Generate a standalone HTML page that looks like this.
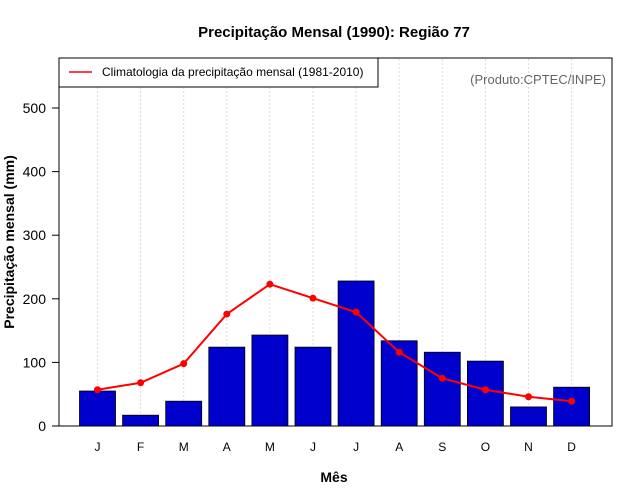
<!DOCTYPE html>
<html><head><meta charset="utf-8"><style>body{margin:0;background:#fff}svg{display:block;font-family:"Liberation Sans",sans-serif}</style></head>
<body>
<svg id="c" width="640" height="500" xmlns="http://www.w3.org/2000/svg">
<text x="334" y="37" text-anchor="middle" font-weight="bold" font-size="15">Precipitação Mensal (1990): Região 77</text>
<rect x="59" y="58" width="553" height="368" fill="none" stroke="#000"/>
<g id="grid"></g><g id="bars"></g><g id="line"></g><g id="axes"></g>
<rect x="59" y="58" width="319" height="29" fill="#fff" stroke="#000"/>
<line x1="69" y1="72" x2="92" y2="72" stroke="#ff0000" stroke-width="1.5"/>
<text x="102" y="76" font-size="12">Climatologia da precipitação mensal (1981-2010)</text>
<text x="606" y="84" text-anchor="end" font-size="13" fill="#666">(Produto:CPTEC/INPE)</text>
<text x="334" y="482" text-anchor="middle" font-weight="bold" font-size="14">Mês</text>
<text transform="translate(14,242) rotate(-90)" text-anchor="middle" font-weight="bold" font-size="14">Precipitação mensal (mm)</text>
</svg>
<script>
const months=["J","F","M","A","M","J","J","A","S","O","N","D"];
const observed=[55,17,39,124,143,124,228,134,116,102,30,61];
const climatology=[57,68,98,176,223,201,179,116,75,57,46,39];
const yTicks=[0,100,200,300,400,500];
const NS="http://www.w3.org/2000/svg";
const x=i=>97.5+i*43.1;
const y=v=>426-v*0.636;
function mk(t,a,p){const e=document.createElementNS(NS,t);for(const k in a)e.setAttribute(k,a[k]);p.appendChild(e);return e;}
const G=document.getElementById('grid'),B=document.getElementById('bars'),L=document.getElementById('line'),A=document.getElementById('axes');
months.forEach((m,i)=>{
 const g=mk('line',{x1:x(i),x2:x(i),y1:59,y2:425,stroke:'#ddd','stroke-dasharray':'2,2'},G);
 
 
 const b=mk('rect',{x:x(i)-18,y:y(observed[i]),width:36,height:observed[i]*0.636,fill:'#0000cd',stroke:'#000','stroke-width':0.8},B);
 
 
 const t=mk('text',{x:x(i),y:451,'text-anchor':'middle','font-size':12},A);t.textContent=m;
 
 
});
const pl=mk('polyline',{points:climatology.map((v,i)=>x(i)+','+y(v)).join(' '),fill:'none',stroke:'#ff0000','stroke-width':2},L);


climatology.forEach((v,i)=>{const c=mk('circle',{cx:x(i),cy:y(v),r:3.5,fill:'#ff0000'},L);
 
 });
yTicks.forEach(v=>{
 const tk=mk('line',{x1:52,x2:59,y1:y(v),y2:y(v),stroke:'#000'},A);
 
 
 const t=mk('text',{x:46,y:y(v)+5,'text-anchor':'end','font-size':14},A);t.textContent=v;
 
 
});
</script>
</body></html>
